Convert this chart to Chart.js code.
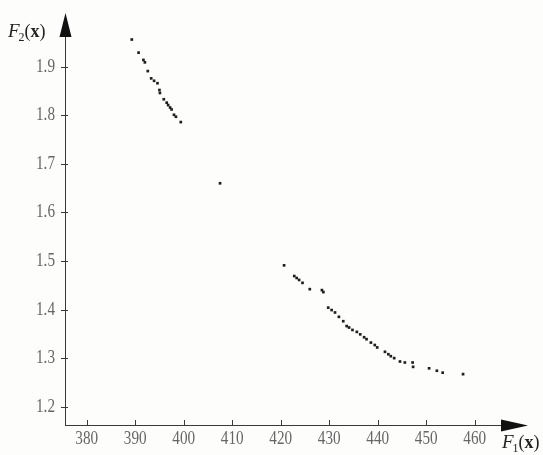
<!DOCTYPE html>
<html>
<head>
<meta charset="utf-8">
<script src="https://cdn.jsdelivr.net/npm/chart.js@4"></script>
<style>
  html, body { margin: 0; padding: 0; background: #fdfdfb; }
  canvas { display: block; }
</style>
</head>
<body>
<canvas id="pareto" width="543" height="455"></canvas>
<script>
// Pareto front: objective F1(x) against objective F2(x)
const f1Values = [
  389.3, 390.7, 391.7, 392.0, 392.6, 393.3, 393.9, 394.6, 395.0, 395.1,
  395.9, 396.5, 396.8, 397.2, 397.5, 398.0, 398.4, 399.4,
  407.5,
  420.7, 422.8, 423.3, 423.8, 424.5, 426.0, 428.5, 428.8,
  429.8, 430.5, 431.2, 432.0, 432.9, 433.6, 434.1, 434.8, 435.7, 436.4,
  437.2, 437.7, 438.6, 439.4, 439.9, 441.5, 442.2, 442.7, 443.4, 444.6,
  445.6, 447.2, 447.3, 450.6, 452.2, 453.4, 457.6
];
const f2Values = [
  1.956, 1.929, 1.914, 1.909, 1.891, 1.876, 1.871, 1.866, 1.852, 1.846,
  1.833, 1.826, 1.821, 1.816, 1.812, 1.801, 1.797, 1.786,
  1.660,
  1.491, 1.469, 1.465, 1.461, 1.455, 1.442, 1.440, 1.436,
  1.404, 1.399, 1.394, 1.385, 1.376, 1.366, 1.363, 1.358, 1.354, 1.349,
  1.343, 1.339, 1.332, 1.327, 1.322, 1.313, 1.308, 1.304, 1.300, 1.293,
  1.291, 1.291, 1.282, 1.279, 1.274, 1.270, 1.267
];
const xTicks = [380, 390, 400, 410, 420, 430, 440, 450, 460];
const yTicks = [1.2, 1.3, 1.4, 1.5, 1.6, 1.7, 1.8, 1.9];

const points = f1Values.map((v, i) => ({ x: v, y: f2Values[i] }));

const tickFont = '19px "Liberation Serif", "DejaVu Serif", serif';
const tickSqueeze = 0.8;   // narrow the serif digits horizontally
const tickColor = '#666666';
const axisColor = '#3a3a3a';

// text drawn with a horizontal squeeze; align: 'center' or 'right'
function narrowText(ctx, text, px, py, align) {
  const w = ctx.measureText(text).width * tickSqueeze;
  const left = align === 'right' ? px - w : px - w / 2;
  ctx.save();
  ctx.translate(left, py);
  ctx.scale(tickSqueeze, 1);
  ctx.textAlign = 'left';
  ctx.fillText(text, 0, 0);
  ctx.restore();
}

// draws the arrowed axes, their tick marks and labels from the chart scales
const arrowAxes = {
  id: 'arrowAxes',
  beforeDatasetsDraw(chart) {
    const { ctx, chartArea: a, scales: { x, y } } = chart;
    const ox = a.left, oy = a.bottom;
    ctx.save();
    ctx.strokeStyle = axisColor;
    ctx.fillStyle = '#111';
    ctx.lineWidth = 1;
    // axis lines
    ctx.beginPath();
    ctx.moveTo(ox + 0.5, oy);
    ctx.lineTo(ox + 0.5, a.top + 20);
    ctx.moveTo(ox, oy + 0.5);
    ctx.lineTo(a.right - 22, oy + 0.5);
    ctx.stroke();
    // arrow heads
    ctx.beginPath();
    ctx.moveTo(ox + 0.5, a.top);
    ctx.lineTo(ox - 5.5, a.top + 24);
    ctx.lineTo(ox + 6.5, a.top + 24);
    ctx.closePath();
    ctx.fill();
    ctx.beginPath();
    ctx.moveTo(a.right, oy + 0.5);
    ctx.lineTo(a.right - 27, oy - 5.5);
    ctx.lineTo(a.right - 27, oy + 6.5);
    ctx.closePath();
    ctx.fill();
    // ticks and labels
    ctx.font = tickFont;
    ctx.strokeStyle = axisColor;
    ctx.beginPath();
    xTicks.forEach(v => {
      const px = Math.round(x.getPixelForValue(v)) + 0.5;
      ctx.moveTo(px, oy - 5);
      ctx.lineTo(px, oy + 1);
    });
    yTicks.forEach(v => {
      const py = Math.round(y.getPixelForValue(v)) + 0.5;
      ctx.moveTo(ox - 4, py);
      ctx.lineTo(ox + 3, py);
    });
    ctx.stroke();
    ctx.fillStyle = tickColor;
    ctx.textBaseline = 'top';
    xTicks.forEach(v => narrowText(ctx, String(v), x.getPixelForValue(v), oy + 5, 'center'));
    ctx.textBaseline = 'middle';
    yTicks.forEach(v => narrowText(ctx, v.toFixed(1), ox - 10, y.getPixelForValue(v), 'right'));
    // axis titles F2(x) and F1(x)
    const title = (sub, tx, ty) => {
      ctx.fillStyle = '#222';
      ctx.textAlign = 'left';
      ctx.textBaseline = 'alphabetic';
      ctx.font = 'italic 19px "Liberation Serif", serif';
      ctx.fillText('F', tx, ty);
      let w = ctx.measureText('F').width;
      ctx.font = '12px "Liberation Serif", serif';
      ctx.fillText(sub, tx + w - 1, ty + 4);
      w += ctx.measureText(sub).width - 1;
      ctx.font = '18px "Liberation Serif", serif';
      ctx.fillText('(', tx + w, ty);
      w += ctx.measureText('(').width;
      ctx.font = 'bold 18px "Liberation Serif", serif';
      ctx.fillText('x', tx + w, ty);
      w += ctx.measureText('x').width;
      ctx.font = '18px "Liberation Serif", serif';
      ctx.fillText(')', tx + w, ty);
    };
    title('2', 8, 37);
    title('1', 502, 448);
    ctx.restore();
  }
};

new Chart(document.getElementById('pareto'), {
  type: 'scatter',
  data: {
    datasets: [{
      data: points,
      pointStyle: 'rect',
      pointRadius: 1.9,
      pointHoverRadius: 1.9,
      backgroundColor: '#1e1e1e',
      borderColor: '#1e1e1e',
      borderWidth: 0
    }]
  },
  options: {
    responsive: false,
    animation: false,
    devicePixelRatio: 1,
    layout: { padding: { left: 65, right: 15, top: 13, bottom: 30 } },
    plugins: { legend: { display: false }, tooltip: { enabled: false } },
    scales: {
      x: { type: 'linear', display: false, min: 375.53, max: 470.99 },
      y: { type: 'linear', display: false, min: 1.1623, max: 2.0106 }
    }
  },
  plugins: [arrowAxes]
});
</script>
</body>
</html>
